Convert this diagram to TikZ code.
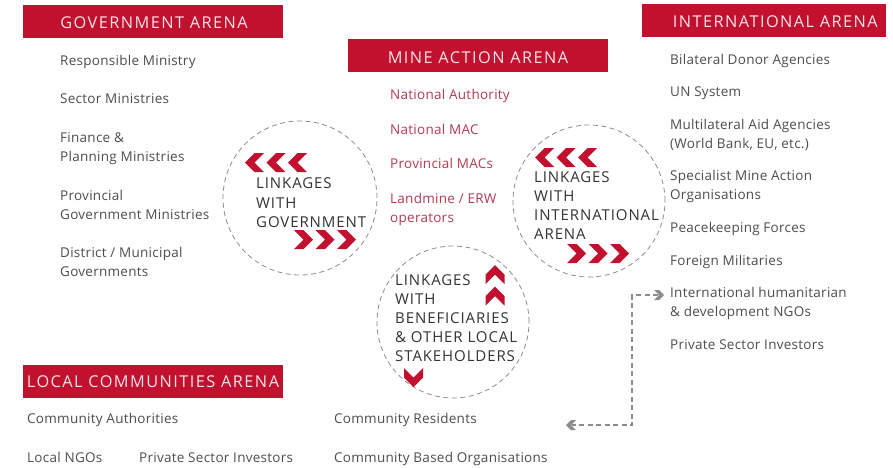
\documentclass[tikz,border=0pt]{standalone}
\usepackage{fontspec}
\setmainfont{Open Sans}
\newfontfamily\hdrfam[LetterSpace=9]{Open Sans}
\newfontfamily\itemfam[LetterSpace=2]{Open Sans}
\newfontfamily\linkfam[LetterSpace=6]{Open Sans}
\definecolor{arenared}{HTML}{C2112F}
\definecolor{hdrtxt}{HTML}{F7E3E7}
\definecolor{itemgray}{HTML}{4D4D4D}
\definecolor{minered}{HTML}{B43A52}
\definecolor{linkgray}{HTML}{333333}
\definecolor{ringgray}{HTML}{8C8C8C}
\definecolor{conngray}{HTML}{8C8C8C}
\tikzset{
  hdrbox/.style={fill=arenared, draw=none, inner sep=0, anchor=north west},
  hdrtext/.style={inner sep=0, text=hdrtxt, font=\hdrfam\fontsize{16.3}{18}\selectfont},
  item/.style={anchor=base west, inner sep=0, text=itemgray, font=\itemfam\fontsize{13.5}{16}\selectfont},
  mitem/.style={item, text=minered},
  ltext/.style={anchor=base west, inner sep=0, text=linkgray, font=\linkfam\fontsize{15}{17}\selectfont},
  ring/.style={circle, draw=ringgray, dash pattern=on 5pt off 3.5pt, line width=0.8pt, inner sep=0},
  conn/.style={draw=conngray, dash pattern=on 5pt off 3.5pt, line width=1.1pt},
  redchev/.pic={\fill[arenared] (0,0) -- (-9.5,-9.5) -- (-19,-9.5) -- (-9.5,0) -- (-19,9.5) -- (-9.5,9.5) -- cycle;},
  graychev/.pic={\fill[conngray] (0,0) -- (-5,-5) -- (-10,-5) -- (-5,0) -- (-10,5) -- (-5,5) -- cycle;}
}
\begin{document}
\begin{tikzpicture}[x=1pt,y=-1pt]
\useasboundingbox (0,0) rectangle (893,467);

% header boxes
\node[hdrbox, minimum width=260, minimum height=33] (govH) at (23,5) {};
\node[hdrbox, minimum width=260, minimum height=33] (mineH) at (348,39) {};
\node[hdrbox, minimum width=244, minimum height=33] (intH) at (642,4) {};
\node[hdrbox, minimum width=260, minimum height=33] (locH) at (23,365) {};
\node[hdrtext, anchor=base] (govT) at (154,28) {GOVERNMENT ARENA};
\node[hdrtext, anchor=base] (mineT) at (478,63) {MINE ACTION ARENA};
\node[hdrtext, anchor=base east] (intT) at (878,27) {INTERNATIONAL ARENA};
\node[hdrtext, anchor=base] (locT) at (153,387) {LOCAL COMMUNITIES ARENA};

% government items
\node[item] (g1) at (60,65) {Responsible Ministry};
\node[item] (g2) at (60,103) {Sector Ministries};
\node[item] (g3a) at (60,142) {Finance \&};
\node[item] (g3b) at (60,161) {Planning Ministries};
\node[item] (g4a) at (60,200) {Provincial};
\node[item] (g4b) at (60,219) {Government Ministries};
\node[item] (g5a) at (60,257) {District / Municipal};
\node[item] (g5b) at (60,276) {Governments};

% mine action items
\node[mitem] (m1) at (390,99) {National Authority};
\node[mitem] (m2) at (390,134) {National MAC};
\node[mitem] (m3) at (390,168) {Provincial MACs};
\node[mitem] (m4a) at (390,203) {Landmine / ERW};
\node[mitem] (m4b) at (390,222) {operators};

% international items
\node[item] (i1) at (670,64) {Bilateral Donor Agencies};
\node[item] (i2) at (670,96) {UN System};
\node[item] (i3a) at (670,129) {Multilateral Aid Agencies};
\node[item] (i3b) at (670,148) {(World Bank, EU, etc.)};
\node[item] (i4a) at (670,180) {Specialist Mine Action};
\node[item] (i4b) at (670,199) {Organisations};
\node[item] (i5) at (670,232) {Peacekeeping Forces};
\node[item] (i6) at (670,265) {Foreign Militaries};
\node[item] (i7a) at (670,297) {International humanitarian};
\node[item] (i7b) at (670,316) {\& development NGOs};
\node[item] (i8) at (670,349) {Private Sector Investors};

% local items
\node[item] (l1) at (27,423) {Community Authorities};
\node[item] (l2) at (27,462) {Local NGOs};
\node[item] (l3) at (139,462) {Private Sector Investors};
\node[item] (l4) at (334,423) {Community Residents};
\node[item] (l5) at (334,462) {Community Based Organisations};

% linkage circles
\node[ring, minimum size=154] (cGov) at (300,198) {};
\node[ring, minimum size=152] (cInt) at (589,201) {};
\node[ring, minimum size=152] (cBen) at (453,322) {};

\node[ltext] (cg1) at (256,188) {LINKAGES};
\node[ltext] (cg2) at (256,208) {WITH};
\node[ltext] (cg3) at (256,227) {GOVERNMENT};

\node[ltext] (ci1) at (534,182) {LINKAGES};
\node[ltext] (ci2) at (534,201) {WITH};
\node[ltext] (ci3) at (534,220) {INTERNATIONAL};
\node[ltext] (ci4) at (534,239) {ARENA};

\node[ltext] (cb1) at (395,285) {LINKAGES};
\node[ltext] (cb2) at (395,304) {WITH};
\node[ltext] (cb3) at (395,323) {BENEFICIARIES};
\node[ltext] (cb4) at (395,342) {\& OTHER LOCAL};
\node[ltext] (cb5) at (395,361) {STAKEHOLDERS};

% chevrons
\foreach \x in {245,266.5,288} \pic[rotate=180] at (\x,162.5) {redchev};
\foreach \x in {313,334.5,356} \pic at (\x,239.5) {redchev};
\foreach \x in {535,556.5,578} \pic[rotate=180] at (\x,157.5) {redchev};
\foreach \x in {586,607.5,629} \pic at (\x,253.5) {redchev};
\foreach \y in {265,286.5} \pic[rotate=90] at (495,\y) {redchev};
\pic[rotate=-90] at (413.5,387) {redchev};

% dashed connector
\coordinate (aTop) at (664,295);
\coordinate (aBot) at (566,425);
\coordinate (aCorner) at (632,295);
\draw[conn] ([xshift=-6pt]aTop) -- (aCorner) |- ([xshift=6pt]aBot);
\pic at (aTop) {graychev};
\pic[rotate=180] at (aBot) {graychev};
\end{tikzpicture}
\end{document}
